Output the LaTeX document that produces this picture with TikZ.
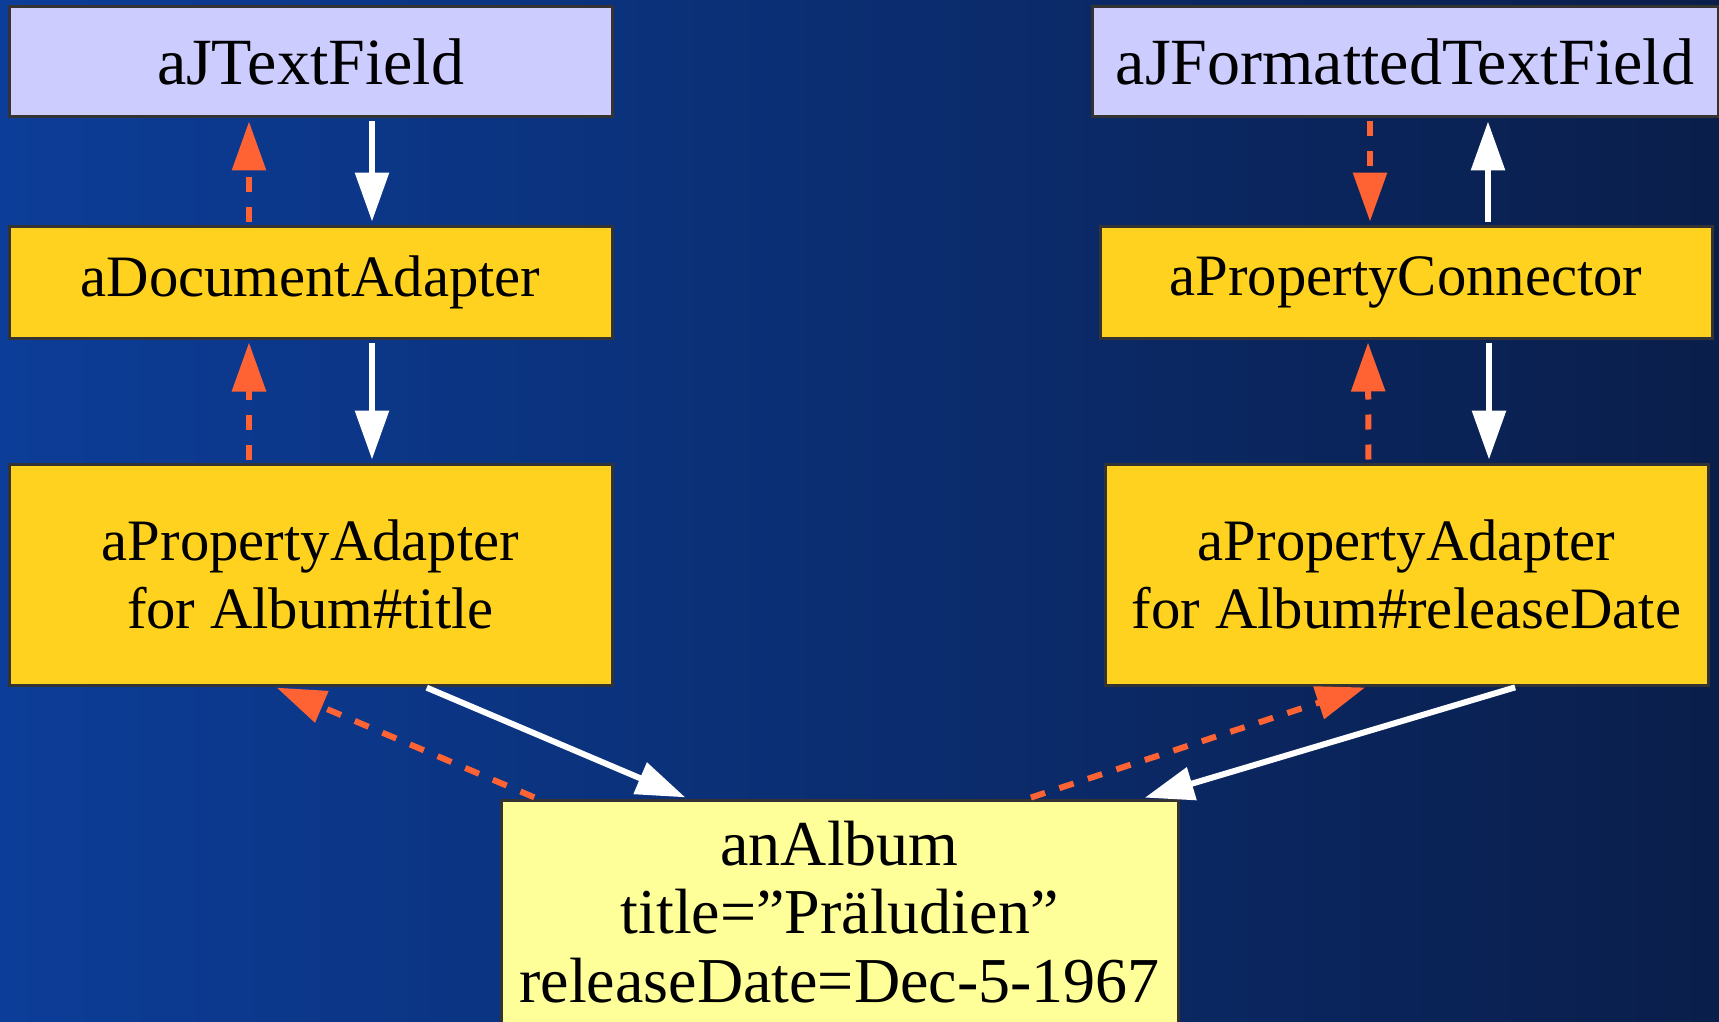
\documentclass[tikz,border=0pt]{standalone}
\usepackage{fontspec}
\setmainfont{Liberation Serif}
\usetikzlibrary{arrows.meta}

\definecolor{bgleft}{RGB}{12,61,152}
\definecolor{bgmid}{RGB}{10,44,112}
\definecolor{bgright}{RGB}{10,30,74}
\definecolor{fieldfill}{RGB}{204,204,255}
\definecolor{adapterfill}{RGB}{255,210,32}
\definecolor{albumfill}{RGB}{255,255,153}
\definecolor{framegray}{RGB}{51,51,51}
\definecolor{eventorange}{RGB}{255,99,51}

\tikzset{
    objbox/.style={draw=framegray, line width=3pt, inner sep=0pt, align=center,
        font=\fontsize{64}{68.5}\selectfont},
    fieldbox/.style={objbox, fill=fieldfill, minimum height=110pt,
        font=\fontsize{66}{68.5}\selectfont},
    adapterbox/.style={objbox, fill=adapterfill,
        font=\fontsize{58.7}{68.5}\selectfont},
    albumbox/.style={objbox, fill=albumfill},
    valueflow/.style={draw=white, line width=6pt, -{Triangle[length=49pt,width=33pt]},
        shorten <=3pt, shorten >=3pt},
    changeflow/.style={draw=eventorange, line width=6pt, dash pattern=on 15pt off 15pt,
        -{Triangle[length=49pt,width=33pt]}, shorten <=3pt, shorten >=3pt},
}

\begin{document}
\begin{tikzpicture}[x=1pt, y=-1pt]
    \def\lx{310.5}
    \def\rx{1406}
    % Background
    \clip (0,0) rectangle (1719,1022);
    \shade[left color=bgleft, middle color=bgmid, right color=bgright] (0,0) rectangle (1719,1022);

    % Left column: text field and its adapters
    \node[fieldbox, minimum width=603pt] (tf) at (\lx, 62) {aJTextField};
    \node[adapterbox, minimum width=603pt, minimum height=112pt] (da) at (\lx, 282) {aDocumentAdapter};
    \node[adapterbox, minimum width=603pt, minimum height=221pt] (pal) at (\lx, 574.5) {aPropertyAdapter\\for Album\#title};

    % Right column: formatted field and its connector
    \node[fieldbox, minimum width=626pt] (ftf) at (\rx - 1, 62) {aJFormattedTextField};
    \node[adapterbox, minimum width=612pt, minimum height=112pt] (pc) at (\rx, 282) {aPropertyConnector};
    \node[adapterbox, minimum width=603pt, minimum height=221pt] (par) at (\rx + 0.5, 574.5) {aPropertyAdapter\\for Album\#releaseDate};

    % The bean
    \node[albumbox, minimum width=677pt, minimum height=224pt] (album) at (839.5, 912) {anAlbum\\title=”Präludien”\\releaseDate=Dec-5-1967};

    % Left arrows
    \draw[changeflow] ([xshift=-61.5pt]da.north) -- ([xshift=-61.5pt]tf.south);
    \draw[valueflow] ([xshift=61.5pt]tf.south) -- ([xshift=61.5pt]da.north);
    \draw[changeflow] ([xshift=-61.5pt]pal.north) -- ([xshift=-61.5pt]da.south);
    \draw[valueflow] ([xshift=61.5pt]da.south) -- ([xshift=61.5pt]pal.north);

    % Right arrows
    \draw[changeflow] ([xshift=-35pt]ftf.south) -- ([xshift=-36pt]pc.north);
    \draw[valueflow] ([xshift=82pt]pc.north) -- ([xshift=83pt]ftf.south);
    \draw[changeflow] ([xshift=-38pt]par.north) -- ([xshift=-38pt]pc.south);
    \draw[valueflow] ([xshift=83pt]pc.south) -- ([xshift=82.5pt]par.north);

    % Arrows to and from the album
    \draw[valueflow] ([xshift=113.5pt]pal.south) -- ([xshift=-151.5pt]album.north);
    \draw[changeflow] ([xshift=-302.5pt]album.north) -- ([xshift=-36.5pt]pal.south);
    \draw[changeflow] ([xshift=188.5pt]album.north) -- ([xshift=-38.5pt]par.south);
    \draw[valueflow] ([xshift=111.5pt]par.south) -- ([xshift=302.5pt]album.north);
\end{tikzpicture}
\end{document}
